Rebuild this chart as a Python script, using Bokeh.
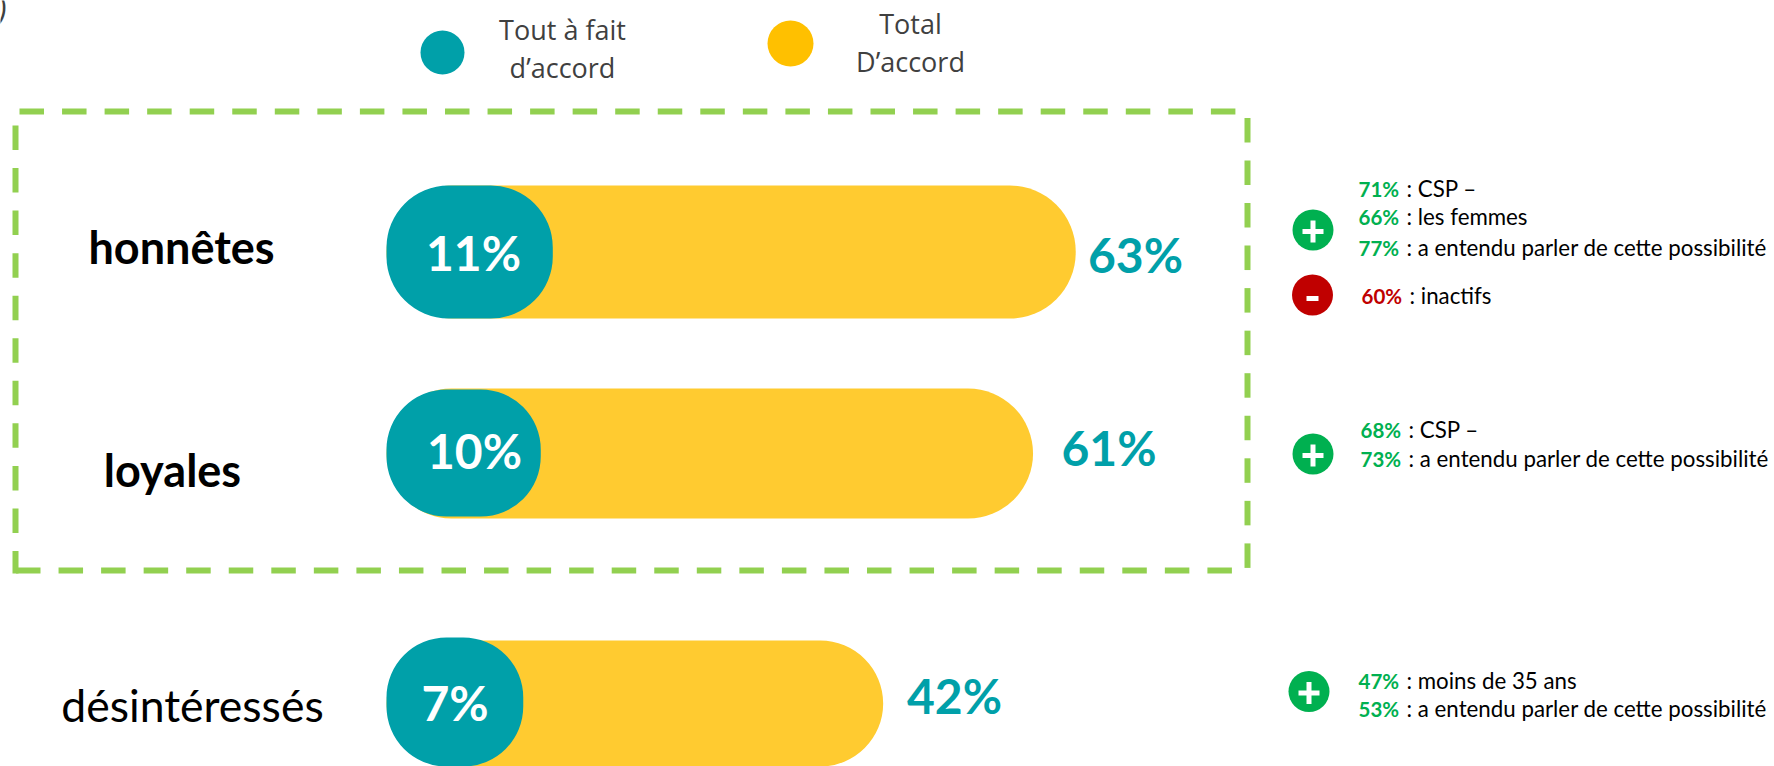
from bokeh.plotting import figure
from bokeh.models import Range1d
from bokeh.embed import file_html
from bokeh.resources import INLINE
from bokeh.core.properties import value

# ---- data ----
categories = ["honnêtes", "loyales", "désintéressés"]
category_bold = [True, True, False]
total_labels = ["63%", "61%", "42%"]
strong_labels = ["11%", "10%", "7%"]
# drawn bar lengths, in percent units of the chart's scale (the pictogram is not strictly proportional)
total_drawn = [63.0, 59.1, 45.4]
strong_drawn = [15.2, 14.1, 12.5]
legend_strong = ["Tout à fait", "d’accord"]
legend_total = ["Total", "D’accord"]
notes_pct = ["71%", "66%", "77%", "60%", "68%", "73%", "47%", "53%"]
notes_txt = [": CSP –", ": les femmes", ": a entendu parler de cette possibilité", ": inactifs",
             ": CSP –", ": a entendu parler de cette possibilité",
             ": moins de 35 ans", ": a entendu parler de cette possibilité"]
notes_sign = ["+", "+", "+", "-", "+", "+", "+", "+"]

# ---- layout (page pixels) and styles ----
TEAL, YEL, LEGYEL = "#00A0A9", "#FFCB30", "#FFC000"
GREEN, RED, DASH, GREY = "#00B050", "#C00000", "#92D050", "#404040"
X0, PX_PER_PCT = 386.0, 10.94
FONT = value("Lato")

p = figure(width=1774, height=766, output_backend="svg", toolbar_location=None,
           x_range=Range1d((0 - X0) / PX_PER_PCT, (1774 - X0) / PX_PER_PCT),
           y_range=Range1d(766, 0), min_border=0, outline_line_color=None,
           background_fill_color="white", border_fill_color="white")
p.extra_x_ranges = {"px": Range1d(0, 1774)}
p.axis.visible = False
p.grid.visible = False


def txt(x, y, s, size, color, style="normal", align="left", font=FONT):
    p.text([x], [y], text=[s], text_font=font, text_font_size=f"{size}px", text_color=color,
           text_font_style=style, text_align=align, text_baseline="middle", x_range_name="px")


# dashed frame: dashes drawn one by one, as the period is not a whole number of pixels
PERIOD, DASH_LEN = 42.55, 24.5
hx0, hy0, hx1, hy1 = [], [], [], []
for start, y, n in [(19, 111, 29), (15.5, 570, 29)]:
    for k in range(n):
        hx0.append(start + k * PERIOD)
        hx1.append(start + k * PERIOD + DASH_LEN)
        hy0.append(y)
        hy1.append(y)
for start, x, n in [(125, 15, 11), (117.4, 1247, 11)]:
    for k in range(n):
        hx0.append(x)
        hx1.append(x)
        hy0.append(start + k * PERIOD)
        hy1.append(min(start + k * PERIOD + DASH_LEN, 573))
p.segment(hx0, hy0, hx1, hy1, x_range_name="px", line_color=DASH, line_width=6, line_cap="butt")

# bars
total_y = [251.5, 453, 704]
total_h = [133, 130, 128]
strong_y = [251.5, 452.5, 704]
strong_h = [133, 127, 134]
total_r = [66, 65, 64]
strong_r = [62, 60, 60]
for i in range(3):
    p.hbar(y=[total_y[i]], left=[0], right=[total_drawn[i]], height=total_h[i], fill_color=YEL,
           line_color=None, border_radius=total_r[i])
    p.hbar(y=[strong_y[i]], left=[0], right=[strong_drawn[i]], height=strong_h[i], fill_color=TEAL,
           line_color=None, border_radius=strong_r[i])

# row labels
cat_pos = [(181, 246, 45), (172, 469, 45), (192, 704, 44.5)]
for s, b, (x, y, fs) in zip(categories, category_bold, cat_pos):
    txt(x, y, s, fs, "#000000", "bold" if b else "normal", "center")

# percentages
for s, x, y in zip(strong_labels, [473, 474, 454.5], [252, 450, 702]):
    txt(x, y, s, 48, "white", "bold", "center")
for s, x, y in zip(total_labels, [1135, 1108.5, 954], [254, 447, 695]):
    txt(x, y, s, 48, TEAL, "bold", "center")

# legend
OS = value("Open Sans")
p.circle([442], [52], radius=22, fill_color=TEAL, line_color=None, x_range_name="px")
p.circle([790], [43], radius=23, fill_color=LEGYEL, line_color=None, x_range_name="px")
for s, y in zip(legend_strong, [29, 67]):
    txt(562, y, s, 27, GREY, align="center", font=OS)
for s, y in zip(legend_total, [23, 61]):
    txt(910, y, s, 27, GREY, align="center", font=OS)

# side notes
note_x = [1358, 1358, 1358, 1361, 1360, 1360, 1358, 1358]
note_y = [188, 216, 247, 295, 429, 458, 680, 708]
for pc, t, sg, x, y in zip(notes_pct, notes_txt, notes_sign, note_x, note_y):
    txt(x, y, pc, 20.5, GREEN if sg == "+" else RED, "bold")
    txt(x + 48, y, t, 22.3, "#000000")

# badges
badges = [(1312.5, 229.5, "+"), (1312, 294.5, "-"), (1312.5, 453.5, "+"), (1308.5, 691, "+")]
for x, y, s in badges:
    p.circle([x], [y], radius=20.5, fill_color=GREEN if s == "+" else RED, line_color=None, x_range_name="px")
    if s == "+":
        p.segment([x - 10.5, x], [y + 1.5, y - 9.5], [x + 10.5, x], [y + 1.5, y + 12.5], line_color="white",
                  line_width=5, x_range_name="px")
    else:
        p.segment([x - 6], [y + 3.5], [x + 6], [y + 3.5], line_color="white", line_width=5, x_range_name="px")

# clipped fragment in the top-left corner
txt(-3, 9, ")", 32, GREY, "italic", "left", OS)

open("out.html", "w").write(file_html(p, INLINE))
